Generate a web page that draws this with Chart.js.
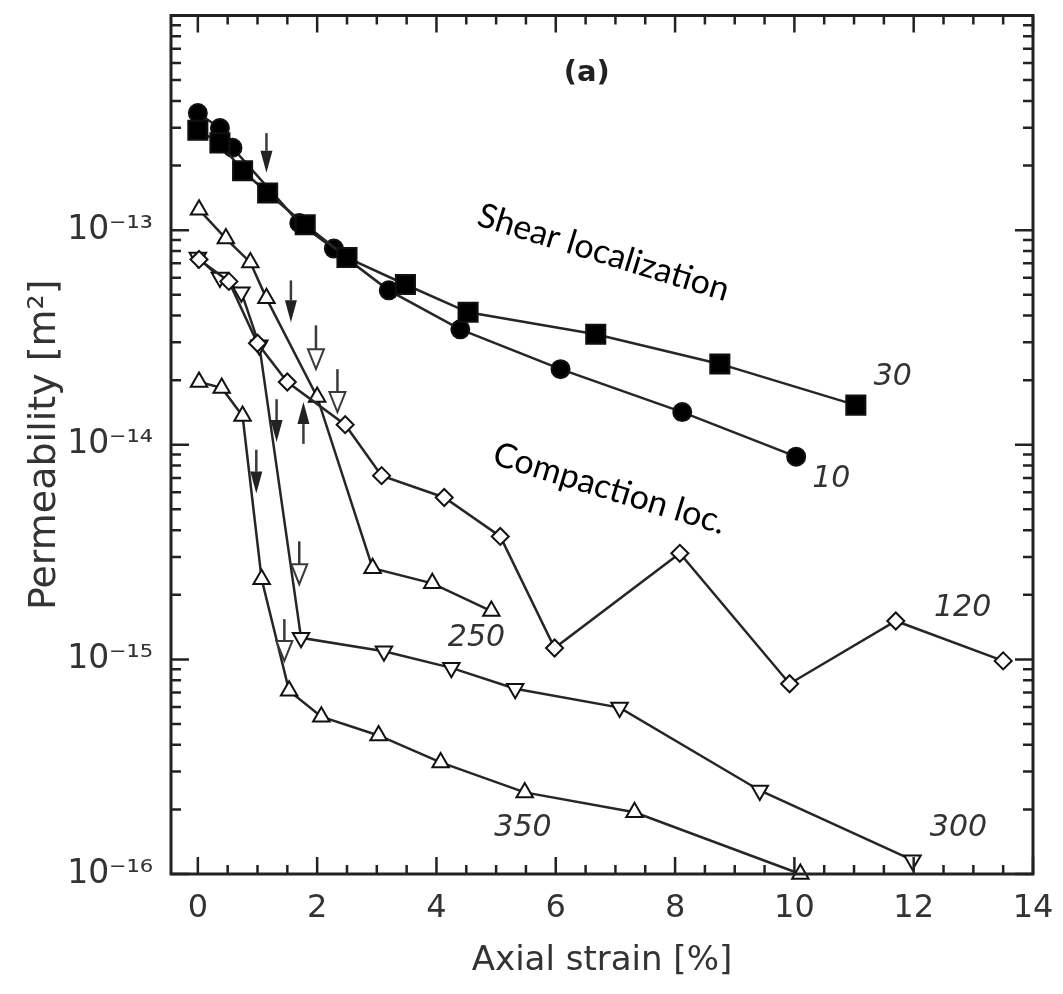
<!DOCTYPE html>
<html>
<head>
<meta charset="UTF-8">
<title>Permeability vs axial strain</title>
<script src="https://cdn.jsdelivr.net/npm/chart.js"></script>
<style>
  body { margin: 0; background: #fff; }
  #wrap { width: 1063px; height: 994px; position: relative; }
</style>
</head>
<body>
<div id="wrap"><canvas id="permChart"></canvas></div>
<script>
// values: axial strain [%] and permeability [m^2]
const strain30 = [0.0, 0.37, 0.75, 1.17, 1.8, 2.5, 3.48, 4.53, 6.67, 8.75, 11.03];
const perm30   = [2.92e-13, 2.55e-13, 1.89e-13, 1.49e-13, 1.06e-13, 7.45e-14, 5.58e-14, 4.14e-14, 3.27e-14, 2.38e-14, 1.53e-14];

const strain10 = [0.0, 0.37, 0.58, 1.7, 2.28, 3.2, 4.4, 6.08, 8.12, 10.03];
const perm10   = [3.51e-13, 2.99e-13, 2.42e-13, 1.08e-13, 8.2e-14, 5.24e-14, 3.45e-14, 2.25e-14, 1.42e-14, 8.8e-15];

const strain120 = [0.02, 0.52, 1.0, 1.5, 2.47, 3.08, 4.13, 5.07, 5.98, 8.08, 9.92, 11.7, 13.5];
const perm120   = [7.3e-14, 5.77e-14, 2.97e-14, 1.96e-14, 1.24e-14, 7.18e-15, 5.68e-15, 3.74e-15, 1.13e-15, 3.12e-15, 7.7e-16, 1.51e-15, 9.84e-16];

const strain250 = [0.02, 0.47, 0.88, 1.15, 2.0, 2.93, 3.93, 4.92];
const perm250   = [1.245e-13, 9.13e-14, 7.07e-14, 4.81e-14, 1.67e-14, 2.66e-15, 2.26e-15, 1.68e-15];

const strain300 = [0.0, 0.37, 0.73, 1.03, 1.73, 3.12, 4.25, 5.32, 7.07, 9.42, 11.98];
const perm300   = [7.45e-14, 6.02e-14, 5.13e-14, 2.91e-14, 1.26e-15, 1.09e-15, 9.13e-16, 7.3e-16, 5.96e-16, 2.45e-16, 1.16e-16];

const strain350 = [0.02, 0.4, 0.75, 1.07, 1.53, 2.07, 3.03, 4.07, 5.48, 7.32, 10.1];
const perm350   = [1.96e-14, 1.84e-14, 1.36e-14, 2.36e-15, 7.14e-16, 5.41e-16, 4.42e-16, 3.31e-16, 2.40e-16, 1.94e-16, 1.0e-16];

const xTicks = [0, 2, 4, 6, 8, 10, 12, 14];
const yDecades = [-16, -15, -14, -13];

// arrows marking the onset of localization (x, tail, tip)
const arrowX    = [1.15, 1.56, 1.98, 2.34, 1.77, 1.32, 0.98, 1.70, 1.45];
const arrowTail = [2.83e-13, 5.83e-14, 3.6e-14, 2.25e-14, 1.01e-14, 1.63e-14, 9.48e-15, 3.55e-15, 1.54e-15];
const arrowTip  = [1.85e-13, 3.72e-14, 2.25e-14, 1.42e-14, 1.58e-14, 1.03e-14, 5.92e-15, 2.24e-15, 9.84e-16];
const arrowOpen = [false, false, true, true, false, false, false, true, true];

// text placed on the plot
const noteText = ['(a)', 'Shear localization', 'Compaction loc.', '30', '10', '120', '250', '300', '350'];
const noteX    = [6.52, 6.8, 6.9, 11.65, 10.62, 12.82, 4.67, 12.75, 5.45];
const noteY    = [5.38e-13, 7.86e-14, 6.25e-15, 2.07e-14, 6.88e-15, 1.73e-15, 1.26e-15, 1.63e-16, 1.63e-16];

const sup = {'-': '\u207B', '0': '\u2070', '1': '\u00B9', '2': '\u00B2', '3': '\u00B3', '4': '\u2074',
             '5': '\u2075', '6': '\u2076', '7': '\u2077', '8': '\u2078', '9': '\u2079'};
function powLabel(e) {
    return '10' + String(e).split('').map(c => sup[c]).join('');
}

function pts(xs, ys) {
    return xs.map((v, i) => ({ x: v, y: ys[i] }));
}

const LINE = '#262626';

function series(label, xs, ys, style, fill, radius, rot) {
    return {
        label: label,
        data: pts(xs, ys),
        borderColor: LINE,
        borderWidth: 2.5,
        pointStyle: style,
        pointRadius: radius,
        pointRotation: rot || 0,
        pointBackgroundColor: fill,
        pointBorderColor: '#111',
        pointBorderWidth: 2,
        tension: 0,
        clip: false
    };
}

const frameAndNotes = {
    id: 'frameAndNotes',
    afterDatasetsDraw(chart) {
        const { ctx, chartArea: a, scales: { x, y } } = chart;
        ctx.save();

        // inward ticks on all four sides
        ctx.strokeStyle = '#222';
        ctx.lineWidth = 2.5;
        ctx.beginPath();
        for (let k = 0; k <= 28; k++) {
            const v = k / 2;
            const px = x.getPixelForValue(v);
            const len = k % 4 === 0 ? 17 : 9;
            ctx.moveTo(px, a.bottom); ctx.lineTo(px, a.bottom - len);
            ctx.moveTo(px, a.top); ctx.lineTo(px, a.top + len);
        }
        for (let e = -16; e < -12; e++) {
            for (let m = 1; m <= 9; m++) {
                const py = y.getPixelForValue(Number(m + 'e' + e));
                const len = m === 1 ? 18 : 10;
                ctx.moveTo(a.left, py); ctx.lineTo(a.left + len, py);
                ctx.moveTo(a.right, py); ctx.lineTo(a.right - len, py);
            }
        }
        ctx.stroke();
        ctx.lineWidth = 3;
        ctx.strokeRect(a.left, a.top, a.right - a.left, a.bottom - a.top);

        // arrows
        ctx.strokeStyle = '#3a3a3a';
        ctx.fillStyle = '#222';
        arrowX.forEach((v, i) => {
            const px = x.getPixelForValue(v);
            const y0 = y.getPixelForValue(arrowTail[i]);
            const y1 = y.getPixelForValue(arrowTip[i]);
            const dir = Math.sign(y1 - y0);
            const open = arrowOpen[i];
            const headLen = open ? 20 : 22;
            const headW = open ? 8 : 6;
            const base = y1 - dir * headLen;
            ctx.lineWidth = 2.5;
            ctx.beginPath();
            ctx.moveTo(px, y0);
            ctx.lineTo(px, base);
            ctx.stroke();
            ctx.beginPath();
            ctx.moveTo(px - headW, base);
            ctx.lineTo(px + headW, base);
            ctx.lineTo(px, y1);
            ctx.closePath();
            if (open) {
                ctx.fillStyle = '#fff';
                ctx.fill();
                ctx.lineWidth = 2;
                ctx.stroke();
                ctx.fillStyle = '#222';
            } else {
                ctx.fill();
            }
        });

        // labels
        ctx.textAlign = 'center';
        ctx.textBaseline = 'middle';
        noteText.forEach((t, i) => {
            const px = x.getPixelForValue(noteX[i]);
            const py = y.getPixelForValue(noteY[i]);
            ctx.save();
            ctx.translate(px, py);
            if (i === 0) {
                ctx.font = 'bold 29px "DejaVu Sans"';
                ctx.fillStyle = '#222';
            } else if (i <= 2) {
                ctx.rotate(17 * Math.PI / 180);
                ctx.font = '34px Lato, "Open Sans", sans-serif';
                ctx.fillStyle = '#000';
            } else {
                ctx.font = 'italic 30px "DejaVu Sans"';
                ctx.fillStyle = '#333';
            }
            ctx.fillText(t, 0, 0);
            ctx.restore();
        });
        ctx.restore();
    }
};

const ctx = document.getElementById('permChart').getContext('2d');
new Chart(ctx, {
    type: 'line',
    data: {
        datasets: [
            series('30', strain30, perm30, 'rect', '#000', 13.5),
            series('10', strain10, perm10, 'circle', '#000', 9),
            series('120', strain120, perm120, 'rectRot', '#fff', 8.5),
            series('250', strain250, perm250, 'triangle', '#fff', 9.5),
            series('300', strain300, perm300, 'triangle', '#fff', 9.5, 180),
            series('350', strain350, perm350, 'triangle', '#fff', 9.5)
        ]
    },
    options: {
        responsive: true,
        maintainAspectRatio: false,
        animation: false,
        layout: { padding: { left: 0, right: 30, top: 12, bottom: 0 } },
        plugins: { legend: { display: false }, tooltip: { enabled: false } },
        scales: {
            x: {
                type: 'linear',
                min: -0.45,
                max: 14,
                grid: { display: false },
                border: { display: false },
                afterBuildTicks: s => { s.ticks = xTicks.map(v => ({ value: v })); },
                afterFit: s => { s.height = 120; s.paddingLeft = 0; },
                ticks: {
                    autoSkip: false,
                    maxRotation: 0,
                    padding: 7,
                    color: '#333',
                    font: { family: '"DejaVu Sans"', size: 32 },
                    callback: v => String(v)
                },
                title: {
                    display: true,
                    text: 'Axial strain [%]',
                    color: '#333',
                    font: { family: '"DejaVu Sans"', size: 34 },
                    padding: { top: 0, bottom: 12 }
                }
            },
            y: {
                type: 'logarithmic',
                min: 1e-16,
                max: 1e-12,
                grid: { display: false },
                border: { display: false },
                afterBuildTicks: s => { s.ticks = yDecades.map(e => ({ value: Number('1e' + e) })); },
                afterFit: s => { s.width = 171; s.paddingTop = 0; s.paddingBottom = 0; },
                ticks: {
                    autoSkip: false,
                    padding: 10,
                    color: '#333',
                    font: { family: '"DejaVu Sans"', size: 33 },
                    callback: v => powLabel(Math.round(Math.log10(v)))
                },
                title: {
                    display: true,
                    text: 'Permeability [m\u00B2]',
                    color: '#333',
                    font: { family: '"DejaVu Sans"', size: 38 },
                    padding: { top: 22, bottom: 0 }
                }
            }
        }
    },
    plugins: [frameAndNotes]
});
</script>
</body>
</html>
